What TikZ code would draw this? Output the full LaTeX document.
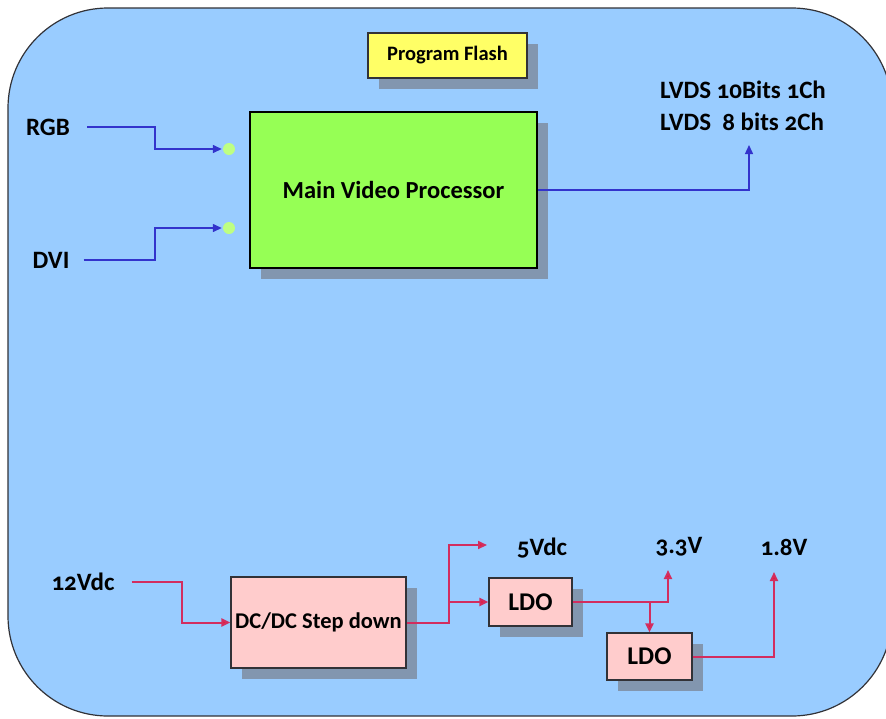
\documentclass[tikz,border=0pt]{standalone}
\usepackage{fontspec}
\setmainfont{Carlito}[Numbers=OldStyle]
\usetikzlibrary{arrows.meta,shadows}
\definecolor{bgblue}{RGB}{153,204,255}
\definecolor{frame}{RGB}{50,50,55}
\definecolor{flashy}{RGB}{255,255,102}
\definecolor{mvpgreen}{RGB}{150,255,85}
\definecolor{dotgreen}{RGB}{190,255,130}
\definecolor{boxpink}{RGB}{255,204,204}
\definecolor{linblue}{RGB}{51,51,204}
\definecolor{linred}{RGB}{210,45,95}
\definecolor{tipred}{RGB}{235,25,50}
\definecolor{shadowc}{RGB}{130,150,175}
\tikzset{
  box/.style={draw=frame, line width=1.2pt, inner sep=0pt, font=\bfseries,
    drop shadow={shadow xshift=11pt, shadow yshift=-11pt, fill=shadowc, opacity=1}},
  lbl/.style={font=\bfseries\fontsize{25}{32}\selectfont, inner sep=0pt, text=black},
  bl/.style={draw=linblue, line width=1.4pt, -{Triangle[length=9pt,width=8pt]}},
  rl/.style={draw=linred, line width=2pt, -{Triangle[length=9pt,width=8pt,fill=tipred]}},
  gdot/.style={circle, fill=dotgreen, draw=none, minimum size=12pt, inner sep=0pt}
}
\begin{document}
\begin{tikzpicture}[x=1pt,y=-1pt]
\useasboundingbox (0,0) rectangle (886,718);
\fill[white] (0,0) rectangle (886,718);
\draw[frame, line width=1.2pt, fill=bgblue, rounded corners=100pt] (8,8) rectangle (892,716);

% boxes
\node[box, fill=flashy, minimum width=159pt, minimum height=45pt, font=\bfseries\fontsize{20.5}{22}\selectfont] (flash) at (447.5,55.5) {Program Flash};
\node[box, fill=mvpgreen, line width=2.6pt, draw=black, minimum width=287pt, minimum height=156pt, font=\bfseries\fontsize{24.5}{28}\selectfont] (mvp) at (393.5,190) {Main Video Processor};
\node[box, fill=boxpink, minimum width=175pt, minimum height=91pt, font=\bfseries\fontsize{22.5}{26}\selectfont] (dcdc) at (318.5,622.5) {DC/DC Step down};
\node[box, fill=boxpink, minimum width=83pt, minimum height=48pt, font=\bfseries\fontsize{25.5}{28}\selectfont] (ldo1) at (530.5,602) {LDO};
\node[box, fill=boxpink, minimum width=85pt, minimum height=47pt, font=\bfseries\fontsize{25.5}{28}\selectfont] (ldo2) at (649.5,656.5) {LDO};

% dots
\node[gdot] (dot1) at (229,149) {};
\node[gdot] (dot2) at (229,228) {};

% labels
\node[lbl] (rgb) at (48,127) {RGB};
\node[lbl] (dvi) at (51,260) {DVI};
\node[lbl, align=left] (lvds) at (743,106) {LVDS 10Bits 1Ch\\LVDS~ 8 bits 2Ch};
\node[lbl] (v12) at (83,582) {12Vdc};
\node[lbl] (v5) at (542,548) {5Vdc};
\node[lbl] (v33) at (679,547) {3.3V};
\node[lbl] (v18) at (784,547) {1.8V};

% helper coordinates
\coordinate (inbend) at (155,0);
\coordinate (outtip) at (749,145);
\coordinate (pbend) at (182,0);
\coordinate (sbend) at (449,0);
\coordinate (fivetip) at (487,545);
\coordinate (tip33) at (668,570);
\coordinate (tip18) at (774,572);

% blue connectors
\draw[bl] ([xshift=17pt]rgb.east) -- (inbend |- rgb.east) |- ([xshift=-1pt]dot1.west);
\draw[bl] ([xshift=14pt]dvi.east) -- (inbend |- dvi.east) |- ([xshift=-1pt]dot2.west);
\draw[bl] (mvp.east) -| (outtip);

% red connectors
\draw[rl] ([xshift=17pt]v12.east) -- (pbend |- v12.east) |- (dcdc.west);
\draw[rl] (dcdc.east) -- (dcdc.east -| sbend) |- (fivetip);
\draw[rl] (sbend |- ldo1.west) -- (ldo1.west);
\draw[rl] (ldo1.east) -| (tip33);
\draw[rl] (ldo1.east -| ldo2.north) -- (ldo2.north);
\draw[rl] (ldo2.east) -| (tip18);
\end{tikzpicture}
\end{document}
